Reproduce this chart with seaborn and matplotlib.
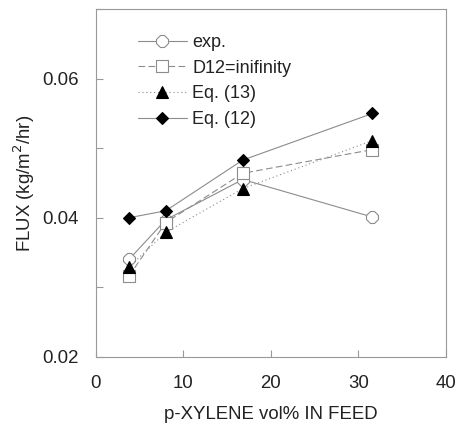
import matplotlib
matplotlib.use("Agg")
import matplotlib.pyplot as plt
import seaborn as sns
import pandas as pd

# p-xylene content of the feed (vol%)
xylene_pct = [3.8, 8.0, 16.8, 31.6]

# permeation flux (kg/m2/hr)
flux_exp = [0.0340, 0.0397, 0.0455, 0.0401]
flux_d12_inf = [0.0316, 0.0393, 0.0464, 0.0498]
flux_eq13 = [0.0329, 0.0379, 0.0442, 0.0511]
flux_eq12 = [0.0400, 0.0410, 0.0483, 0.0550]

series_labels = ["exp.", "D12=inifinity", "Eq. (13)", "Eq. (12)"]

sns.set_style("ticks")
plt.rcParams["font.family"] = ["Liberation Sans", "DejaVu Sans"]

fig = plt.figure(figsize=(4.59, 4.25), dpi=100)
ax = fig.add_axes([0.2085, 0.1607, 0.7630, 0.8175])

line_gray = "#8c8c8c"
styles = [
    dict(marker="8", linestyle="-", mfc="white", mec=line_gray, ms=9),
    dict(marker="s", linestyle=(0, (6, 3)), mfc="white", mec=line_gray, ms=9),
    dict(marker="^", linestyle=(0, (1, 2.5)), mfc="black", mec="black", ms=8),
    dict(marker="D", linestyle="-", mfc="black", mec="black", ms=6.5),
]

for values, label, st in zip([flux_exp, flux_d12_inf, flux_eq13, flux_eq12], series_labels, styles):
    df = pd.DataFrame({"x": xylene_pct, "y": values})
    sns.lineplot(
        data=df, x="x", y="y", ax=ax, label=label,
        color=line_gray, linewidth=0.8, linestyle=st["linestyle"],
        marker=st["marker"], markersize=st["ms"],
        markerfacecolor=st["mfc"], markeredgecolor=st["mec"], markeredgewidth=0.8,
    )

ax.set_xlim(0, 40)
ax.set_ylim(0.02, 0.07)
ax.set_xticks([0, 10, 20, 30, 40])
ax.set_yticks([0.02, 0.03, 0.04, 0.05, 0.06, 0.07])
ax.set_yticklabels(["0.02", "", "0.04", "", "0.06", ""])
ax.tick_params(direction="in", length=5, width=0.8, color="#999999",
               labelsize=13.4, colors="#222222")
ax.tick_params(axis="x", pad=13)
ax.tick_params(axis="y", pad=12)
for sp in ax.spines.values():
    sp.set_color("#999999")
    sp.set_linewidth(0.8)

ax.set_xlabel("p-XYLENE vol% IN FEED", fontsize=13.4, color="#222222", labelpad=10)
ax.set_ylabel("FLUX (kg/m$^2$/hr)", fontsize=13.4, color="#222222", labelpad=4)

leg = ax.legend(loc="upper left", bbox_to_anchor=(0.1, 0.95), frameon=False,
                fontsize=13, handlelength=2.7, handletextpad=0.3,
                labelspacing=0.48, borderaxespad=0)
for t in leg.get_texts():
    t.set_color("#222222")

fig.savefig("out.png", dpi=100)
